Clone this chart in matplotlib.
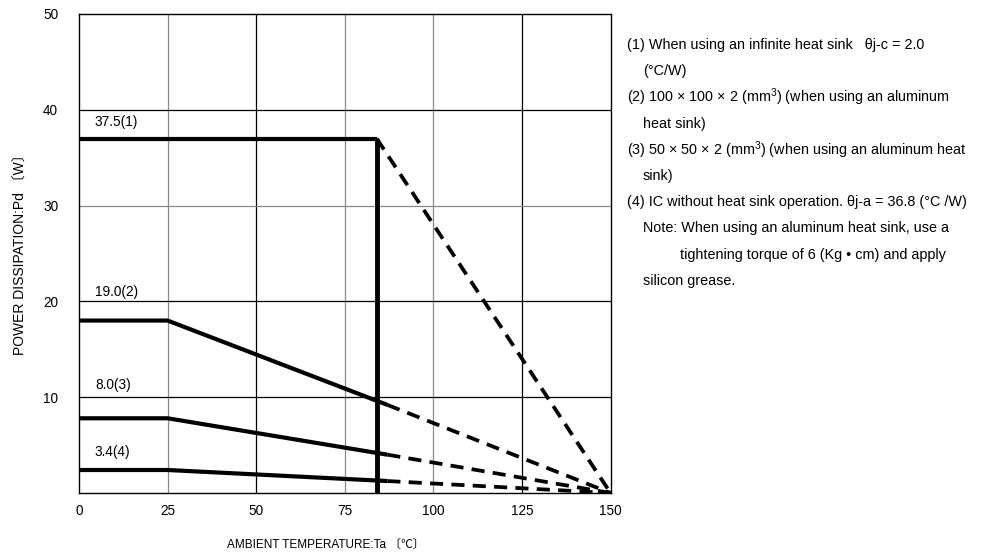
import matplotlib.pyplot as plt

plt.rcParams['font.family'] = ['Liberation Sans', 'Noto Sans CJK JP', 'DejaVu Sans']
plt.rcParams['mathtext.fontset'] = 'custom'
plt.rcParams['mathtext.rm'] = 'Liberation Sans'

# derating curve data (Ta in degC, Pd in W)
ta_flat = [0, 25]
ta_knee = 87
ta_max = 150
ta_limit = 84

pd1 = 37.0
pd2 = [18.0, 18.0, 9.2]
pd3 = [7.8, 7.8, 4.0]
pd4 = [2.4, 2.4, 1.25]

labels = ["37.5(1)", "19.0(2)", "8.0(3)", "3.4(4)"]
label_y = [38.7, 21.0, 11.3, 4.3]

x_ticks = [0, 25, 50, 75, 100, 125, 150]
y_ticks = [10, 20, 30, 40, 50]

notes = [
    ("(1) When using an infinite heat sink   \u03b8j-c = 2.0", 0),
    ("(\u00b0C/W)", 1),
    ("(2) 100 \u00d7 100 \u00d7 2 (mm$\\mathregular{^3}$) (when using an aluminum", 0),
    ("heat sink)", 1),
    ("(3) 50 \u00d7 50 \u00d7 2 (mm$\\mathregular{^3}$) (when using an aluminum heat", 0),
    ("sink)", 1),
    ("(4) IC without heat sink operation. \u03b8j-a = 36.8 (\u00b0C /W)", 0),
    ("Note: When using an aluminum heat sink, use a", 1),
    ("tightening torque of 6 (Kg \u2022 cm) and apply", 2),
    ("silicon grease.", 1),
]


def main():
    fig = plt.figure(figsize=(9.88, 5.53), dpi=100)
    ax = fig.add_axes([0.080, 0.1085, 0.538, 0.8662])

    # grid
    grey = "#8a8a8a"
    for x in x_ticks[1:-1]:
        c = grey if x in (25, 75, 100) else "black"
        ax.axvline(x, color=c, lw=0.9, zorder=1)
    for y in y_ticks[:-1]:
        c = grey if y == 30 else "black"
        ax.axhline(y, color=c, lw=0.9, zorder=1)

    lw = 3.0
    dash = (3.5, 2.2)

    # curve (1)
    ax.plot([0, ta_limit], [pd1, pd1], color="black", lw=lw, solid_capstyle="butt")
    ax.plot([ta_limit, ta_limit], [0, pd1], color="black", lw=lw + 0.5, solid_capstyle="butt")
    ax.plot([ta_limit, ta_max], [pd1, 0], color="black", lw=lw - 0.3, ls=(0, dash))

    # curves (2)-(4)
    for pd in (pd2, pd3, pd4):
        ax.plot(ta_flat + [ta_knee], pd, color="black", lw=lw, solid_capstyle="butt")
        ax.plot([ta_knee, ta_max], [pd[-1], 0], color="black", lw=lw - 0.3, ls=(0, dash))

    for txt, y in zip(labels, label_y):
        ax.text(4.5, y, txt, fontsize=9.8, va="center", ha="left")

    ax.set_xlim(0, 150)
    ax.set_ylim(0, 50)
    ax.set_xticks(x_ticks)
    ax.set_yticks(y_ticks)
    ax.tick_params(length=0, labelsize=9.8)
    ax.tick_params(axis="y", pad=15)
    ax.tick_params(axis="x", pad=8)
    for s in ax.spines.values():
        s.set_linewidth(1.0)

    ax.set_xlabel("AMBIENT TEMPERATURE:Ta \u3014\u2103\u3015", fontsize=8.5)
    ax.xaxis.set_label_coords(0.464, -0.095)
    ax.set_ylabel("POWER DISSIPATION:Pd \u3014W\u3015", fontsize=10)
    ax.yaxis.set_label_coords(-0.097, 0.505)

    # notes on the right
    x0 = 627 / 988
    indent = [0, 16 / 988, 53 / 988]
    for i, (txt, lvl) in enumerate(notes):
        y = 1 - (45 + i * 26.2) / 553
        fig.text(x0 + indent[lvl], y, txt, fontsize=10.4, va="center", ha="left")

    fig.savefig("out.png", dpi=100)


if __name__ == "__main__":
    main()
